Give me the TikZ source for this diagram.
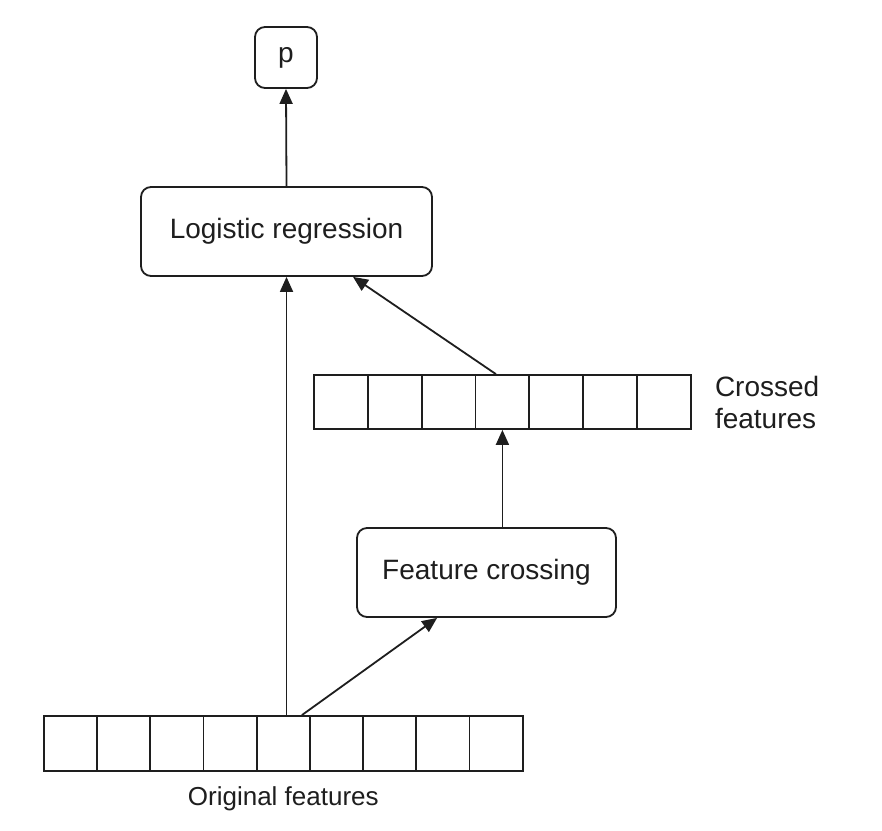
\documentclass[tikz,border=0pt]{standalone}
\usepackage{fontspec}
\setmainfont{Liberation Sans}
\usetikzlibrary{arrows.meta,calc}
\definecolor{ink}{HTML}{1E1E1E}
\tikzset{
  box/.style={draw=ink,line width=1.8pt,rounded corners=10pt,inner sep=0pt,
    font=\fontsize{28}{32}\selectfont,text=ink},
  cellc/.style={draw=ink,line width=1.8pt,minimum width=53.86pt,minimum height=54pt,inner sep=0pt,anchor=west},
  cello/.style={draw=ink,line width=1.8pt,minimum width=53.2pt,minimum height=55pt,inner sep=0pt,anchor=west},
  arr/.style={draw=ink,line width=1.8pt,-{Triangle[length=15pt,width=13pt]}},
  lbl/.style={inner sep=0pt,text=ink}
}
\begin{document}
\begin{tikzpicture}[x=1pt,y=-1pt]
\useasboundingbox[fill=white] (0,0) rectangle (882,830);
\node[box,minimum width=62pt,minimum height=61pt] (p) at (286,57.5) {p};
\node[box,minimum width=291pt,minimum height=89pt] (LR) at (286.5,231.5) {Logistic regression};
\node[box,minimum width=259pt,minimum height=89pt] (FC) at (486.5,572.5) {Feature crossing};
% crossed features
\foreach \i in {1,...,7}{
  \node[cellc] (c\i) at ({313+(\i-1)*53.86},402) {};
}
% original features
\foreach \i in {1,...,9}{
  \node[cello] (o\i) at ({43+(\i-1)*53.2},743.5) {};
}
\node[lbl,anchor=west,align=left,font=\fontsize{28}{32}\selectfont] (cl) at ($(c7.east)+(23,0)$) {Crossed\\features};
\coordinate (om) at ($(o1.south west)!0.5!(o9.south east)$);
\node[lbl,anchor=base,font=\fontsize{26}{30}\selectfont] (ol) at ($(om)+(0,34)$) {Original features};
% connectors
\draw[arr] (LR.north) -- (p.south);
\draw[arr] (LR.south |- o5.north) -- (LR.south);
\draw[arr] ($(o5.north)+(18.6,0)$) -- ($(FC.south west)+(81,0)$);
\draw[arr] (c4.south |- FC.north) -- (c4.south);
\draw[arr] ($(c4.north)+(-6.5,0)$) -- ($(LR.south)+(66.5,0)$);
\end{tikzpicture}
\end{document}
